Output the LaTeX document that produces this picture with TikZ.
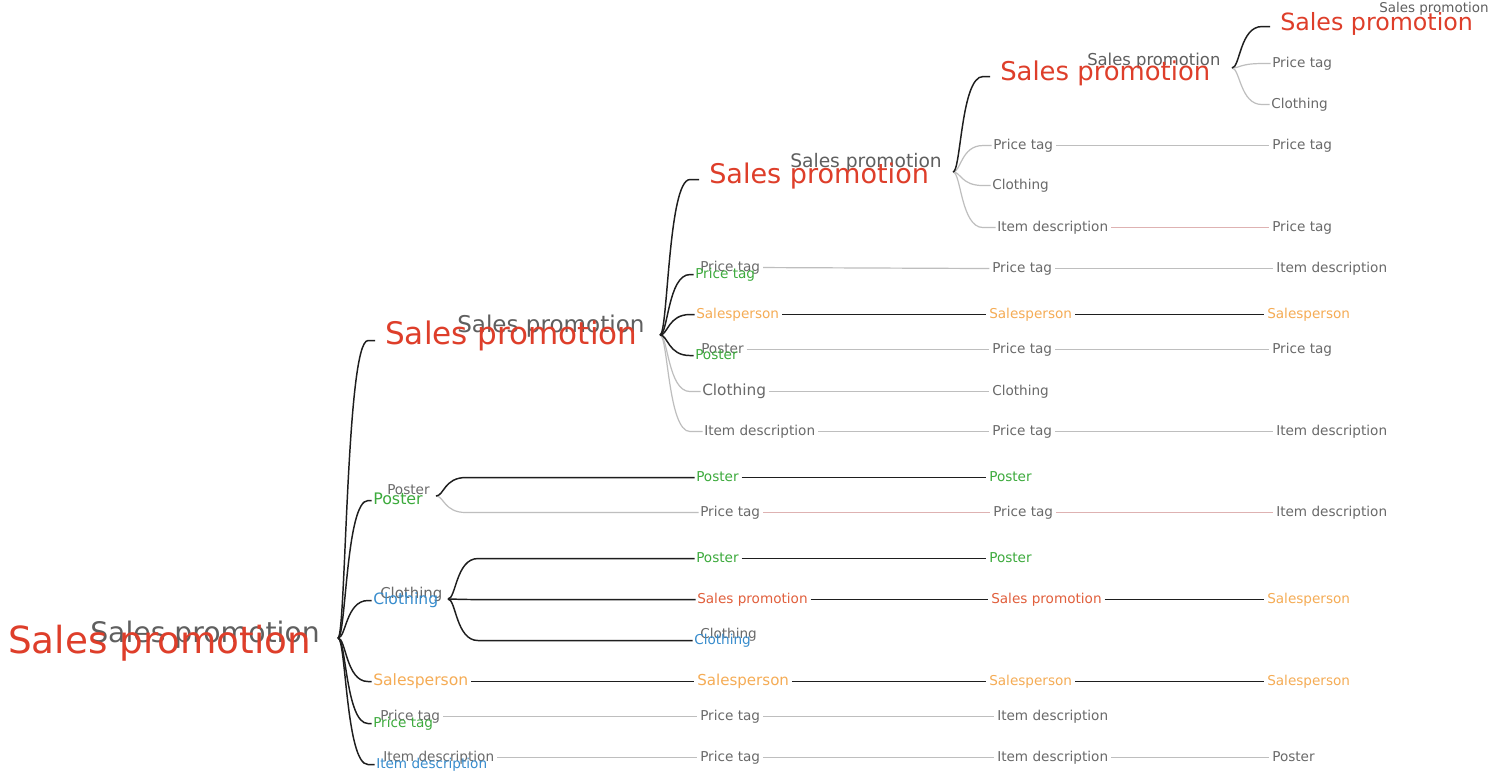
\documentclass[tikz,border=0pt]{standalone}
\usepackage{fontspec}
\setmainfont{DejaVu Sans}
\usetikzlibrary{calc}
\newcommand\fsz[1]{\fontsize{#1}{#1}\selectfont}
\definecolor{spred}{RGB}{222,62,42}
\definecolor{tgray}{RGB}{105,105,105}
\definecolor{ovgray}{RGB}{95,95,95}
\definecolor{tgreen}{RGB}{60,170,60}
\definecolor{tblue}{RGB}{55,140,205}
\definecolor{torange}{RGB}{245,172,85}
\definecolor{tred2}{RGB}{225,95,60}
\definecolor{lgray}{RGB}{190,190,190}
\definecolor{lpink}{RGB}{222,178,178}
\definecolor{lblack}{RGB}{30,30,30}
\newcommand\fanto[3]{\draw[#1] (#2) .. controls ($(#2)+(8,0)$) and ($(#2 |- #3.west)+(8,0)$) .. ($(#2 |- #3.west)+(30,0)$) -- (#3.west);}
\newcommand\link[3]{\draw[#1,shorten <=2pt,shorten >=2pt] (#2.east) -- (#3.west);}
\begin{document}
\begin{tikzpicture}[x=0.75pt,y=-0.75pt,
  tlab/.style={anchor=base west,inner sep=0pt,text height=0.76em,text depth=0.24em,font=\fsz{10.2pt},text=tgray},
  tgr/.style={tlab},
  tgn/.style={tlab,text=tgreen},
  tbl/.style={tlab,text=tblue},
  tor/.style={tlab,text=torange},
  trs/.style={tlab,text=tred2},
  tbig/.style={tlab,text=spred,font=\fsz{#1}},
  tov/.style={tlab,text=ovgray,font=\fsz{#1}},
  cblack/.style={draw=lblack,line width=1.1pt},
  cgray/.style={draw=lgray,line width=0.9pt},
  cpink/.style={draw=lpink,line width=0.9pt},
  redend/.style={shorten >=7.5pt}]
\fill[white] (0,0) rectangle (1490,775);
\useasboundingbox (0,0) rectangle (1490,775);

% root
\node[tov=21.2pt] (rootg) at (90,642) {Sales promotion};
\node[tbig=28pt] (root) at (8,653) {Sales promotion};
\coordinate (b0) at (338,638);

% level 1
\node[tov=17.3pt] (sp1g) at (457,332) {Sales promotion};
\node[tbig=23.3pt] (sp1) at (385,344) {Sales promotion};
\coordinate (b1) at (660,335);

% level 2
\node[tov=14pt] (sp2g) at (790,167) {Sales promotion};
\node[tbig=20.3pt] (sp2) at (709,183) {Sales promotion};
\coordinate (b2) at (953,172);

% level 3
\node[tov=12.3pt] (sp3g) at (1087,65) {Sales promotion};
\node[tbig=19.4pt] (sp3) at (1000,80) {Sales promotion};
\coordinate (b3) at (1232,68);

% level 4
\node[tov=10.1pt] (sp4g) at (1379,12) {Sales promotion};
\node[tbig=17.8pt] (sp4) at (1280,30) {Sales promotion};

% SP3 children
\node[tgr] (s3pt) at (1272,67) {Price tag};
\node[tgr] (s3cl) at (1271,108) {Clothing};

% SP2 children
\node[tgr] (s2pt) at (993,149) {Price tag};
\node[tgr] (s2pt2) at (1272,149) {Price tag};
\node[tgr] (s2cl) at (992,189) {Clothing};
\node[tgr] (s2id) at (997,231) {Item description};
\node[tgr] (s2id2) at (1272,231) {Price tag};

% SP1 children
\node[tgr] (s1ptg) at (700,271) {Price tag};
\node[tgn] (s1pt) at (695,278) {Price tag};
\node[tgr] (s1pt2) at (992,272) {Price tag};
\node[tgr] (s1pt3) at (1276,272) {Item description};
\node[tor] (s1sp) at (696,318) {Salesperson};
\node[tor] (s1sp2) at (989,318) {Salesperson};
\node[tor] (s1sp3) at (1267,318) {Salesperson};
\node[tgr] (s1pog) at (701,353) {Poster};
\node[tgn] (s1po) at (695,359) {Poster};
\node[tgr] (s1po2) at (992,353) {Price tag};
\node[tgr] (s1po3) at (1272,353) {Price tag};
\node[tgr,font=\fsz{11.5pt}] (s1cl) at (702,395) {Clothing};
\node[tgr] (s1cl2) at (992,395) {Clothing};
\node[tgr] (s1id) at (704,435) {Item description};
\node[tgr] (s1id2) at (992,435) {Price tag};
\node[tgr] (s1id3) at (1276,435) {Item description};

% root Poster
\node[tgr] (rpog) at (387,494) {Poster};
\node[tgn,font=\fsz{11.9pt}] (rpo) at (373,504) {Poster};
\coordinate (bp) at (436,496);
\node[tgn] (pp1) at (696,481) {Poster};
\node[tgn] (pp2) at (989,481) {Poster};
\node[tgr] (pt1) at (700,516) {Price tag};
\node[tgr] (pt2) at (993,516) {Price tag};
\node[tgr] (pt3) at (1276,516) {Item description};

% root Clothing
\node[tgr,font=\fsz{11.2pt}] (rclg) at (380,598) {Clothing};
\node[tbl,font=\fsz{11.7pt}] (rcl) at (373,604) {Clothing};
\coordinate (bc) at (448,599);
\node[tgn] (cp1) at (696,562) {Poster};
\node[tgn] (cp2) at (989,562) {Poster};
\node[trs] (cs1) at (697,603) {Sales promotion};
\node[trs] (cs2) at (991,603) {Sales promotion};
\node[tor] (cs3) at (1267,603) {Salesperson};
\node[tgr] (ccg) at (700,638) {Clothing};
\node[tbl] (cc) at (694,644) {Clothing};

% root Salesperson
\node[tor,font=\fsz{11.7pt}] (rsp) at (373,685) {Salesperson};
\node[tor,font=\fsz{11.3pt}] (rsp2) at (697,685) {Salesperson};
\node[tor] (rsp3) at (989,685) {Salesperson};
\node[tor] (rsp4) at (1267,685) {Salesperson};

% root Price tag
\node[tgr] (rptg) at (380,720) {Price tag};
\node[tgn] (rpt) at (373,727) {Price tag};
\node[tgr] (rpt2) at (700,720) {Price tag};
\node[tgr] (rpt3) at (997,720) {Item description};

% root Item description
\node[tgr] (ridg) at (383,761) {Item description};
\node[tbl] (rid) at (376,768) {Item description};
\node[tgr] (rid2) at (700,761) {Price tag};
\node[tgr] (rid3) at (997,761) {Item description};
\node[tgr] (rid4) at (1272,761) {Poster};

% ---- gray connectors
\fanto{cgray,shorten >=1pt}{b3}{s3pt}
\fanto{cgray,shorten >=1pt}{b3}{s3cl}
\fanto{cgray,shorten >=1pt}{b2}{s2pt}
\fanto{cgray,shorten >=1pt}{b2}{s2cl}
\fanto{cgray,shorten >=1pt}{b2}{s2id}
\fanto{cgray,shorten >=1pt}{b1}{s1cl}
\fanto{cgray,shorten >=1pt}{b1}{s1id}
\fanto{cgray,shorten >=1pt}{bp}{pt1}

\link{cgray}{s2pt}{s2pt2}
\link{cpink}{s2id}{s2id2}
\link{cgray}{s1ptg}{s1pt2}
\link{cgray}{s1pt2}{s1pt3}
\link{cgray}{s1pog}{s1po2}
\link{cgray}{s1po2}{s1po3}
\link{cgray}{s1cl}{s1cl2}
\link{cgray}{s1id}{s1id2}
\link{cgray}{s1id2}{s1id3}
\link{cpink}{pt1}{pt2}
\link{cpink}{pt2}{pt3}
\link{cgray}{rptg}{rpt2}
\link{cgray}{rpt2}{rpt3}
\link{cgray}{ridg}{rid2}
\link{cgray}{rid2}{rid3}
\link{cgray}{rid3}{rid4}

% ---- black connectors
\fanto{cblack,redend}{b0}{sp1}
\fanto{cblack,shorten >=1pt}{b0}{rpo}
\fanto{cblack,shorten >=1pt}{b0}{rcl}
\fanto{cblack,shorten >=1pt}{b0}{rsp}
\fanto{cblack,shorten >=1pt}{b0}{rpt}
\fanto{cblack,shorten >=1pt}{b0}{rid}
\fanto{cblack,redend}{b1}{sp2}
\fanto{cblack,shorten >=1pt}{b1}{s1pt}
\fanto{cblack,shorten >=1pt}{b1}{s1sp}
\fanto{cblack,shorten >=1pt}{b1}{s1po}
\fanto{cblack,redend}{b2}{sp3}
\fanto{cblack,redend}{b3}{sp4}
\fanto{cblack,shorten >=1pt}{bp}{pp1}
\fanto{cblack,shorten >=1pt}{bc}{cp1}
\fanto{cblack,shorten >=1pt}{bc}{cs1}
\fanto{cblack,shorten >=1pt}{bc}{cc}

\link{cblack}{s1sp}{s1sp2}
\link{cblack}{s1sp2}{s1sp3}
\link{cblack}{pp1}{pp2}
\link{cblack}{cp1}{cp2}
\link{cblack}{cs1}{cs2}
\link{cblack}{cs2}{cs3}
\link{cblack}{rsp}{rsp2}
\link{cblack}{rsp2}{rsp3}
\link{cblack}{rsp3}{rsp4}
\end{tikzpicture}
\end{document}
